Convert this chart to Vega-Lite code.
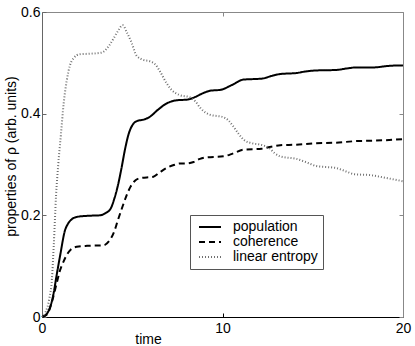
{
  "$schema": "https://vega.github.io/schema/vega-lite/v6.json",
  "width": 361,
  "height": 305,
  "autosize": "none",
  "padding": {"left": 42, "top": 12, "right": 12, "bottom": 29},
  "background": "white",
  "config": {
    "view": {"stroke": null},
    "font": "Liberation Sans",
    "axis": {"grid": false, "labelFontSize": 14, "titleFontSize": 14, "titleFontWeight": "normal", "labelColor": "black", "titleColor": "black"}
  },
  "data": {"values": [
    {"t":0,"v":0,"s":"population"},{"t":0.3,"v":0.008,"s":"population"},{"t":0.5,"v":0.025,"s":"population"},{"t":0.65,"v":0.048,"s":"population"},{"t":0.8,"v":0.08,"s":"population"},{"t":1.0,"v":0.12,"s":"population"},{"t":1.27,"v":0.17,"s":"population"},{"t":1.45,"v":0.184,"s":"population"},{"t":1.64,"v":0.192,"s":"population"},{"t":1.95,"v":0.197,"s":"population"},{"t":2.5,"v":0.199,"s":"population"},{"t":3.2,"v":0.2,"s":"population"},{"t":3.5,"v":0.204,"s":"population"},{"t":3.8,"v":0.213,"s":"population"},{"t":4.0,"v":0.232,"s":"population"},{"t":4.2,"v":0.258,"s":"population"},{"t":4.4,"v":0.292,"s":"population"},{"t":4.6,"v":0.33,"s":"population"},{"t":4.8,"v":0.36,"s":"population"},{"t":5.06,"v":0.38,"s":"population"},{"t":5.3,"v":0.386,"s":"population"},{"t":5.6,"v":0.388,"s":"population"},{"t":5.98,"v":0.394,"s":"population"},{"t":6.4,"v":0.407,"s":"population"},{"t":6.9,"v":0.42,"s":"population"},{"t":7.4,"v":0.426,"s":"population"},{"t":8.1,"v":0.428,"s":"population"},{"t":8.5,"v":0.433,"s":"population"},{"t":8.9,"v":0.44,"s":"population"},{"t":9.3,"v":0.445,"s":"population"},{"t":9.9,"v":0.447,"s":"population"},{"t":10.5,"v":0.456,"s":"population"},{"t":11.15,"v":0.467,"s":"population"},{"t":11.7,"v":0.468,"s":"population"},{"t":12.2,"v":0.469,"s":"population"},{"t":12.7,"v":0.474,"s":"population"},{"t":13.2,"v":0.478,"s":"population"},{"t":14.1,"v":0.48,"s":"population"},{"t":14.6,"v":0.483,"s":"population"},{"t":15.2,"v":0.485,"s":"population"},{"t":16.3,"v":0.486,"s":"population"},{"t":16.9,"v":0.489,"s":"population"},{"t":17.4,"v":0.491,"s":"population"},{"t":18.4,"v":0.491,"s":"population"},{"t":19.2,"v":0.494,"s":"population"},{"t":20,"v":0.495,"s":"population"},
    {"t":0,"v":0,"s":"coherence"},{"t":0.3,"v":0.006,"s":"coherence"},{"t":0.55,"v":0.03,"s":"coherence"},{"t":0.81,"v":0.066,"s":"coherence"},{"t":1.0,"v":0.092,"s":"coherence"},{"t":1.18,"v":0.108,"s":"coherence"},{"t":1.4,"v":0.124,"s":"coherence"},{"t":1.6,"v":0.133,"s":"coherence"},{"t":1.92,"v":0.138,"s":"coherence"},{"t":2.5,"v":0.14,"s":"coherence"},{"t":3.4,"v":0.141,"s":"coherence"},{"t":3.77,"v":0.152,"s":"coherence"},{"t":4.0,"v":0.168,"s":"coherence"},{"t":4.2,"v":0.19,"s":"coherence"},{"t":4.41,"v":0.212,"s":"coherence"},{"t":4.65,"v":0.236,"s":"coherence"},{"t":4.9,"v":0.256,"s":"coherence"},{"t":5.15,"v":0.268,"s":"coherence"},{"t":5.43,"v":0.273,"s":"coherence"},{"t":6.17,"v":0.276,"s":"coherence"},{"t":6.5,"v":0.284,"s":"coherence"},{"t":6.9,"v":0.293,"s":"coherence"},{"t":7.3,"v":0.299,"s":"coherence"},{"t":7.65,"v":0.302,"s":"coherence"},{"t":8.0,"v":0.302,"s":"coherence"},{"t":8.4,"v":0.305,"s":"coherence"},{"t":8.75,"v":0.311,"s":"coherence"},{"t":9.1,"v":0.314,"s":"coherence"},{"t":10.05,"v":0.316,"s":"coherence"},{"t":10.6,"v":0.322,"s":"coherence"},{"t":11.15,"v":0.329,"s":"coherence"},{"t":12.17,"v":0.331,"s":"coherence"},{"t":12.7,"v":0.335,"s":"coherence"},{"t":13.2,"v":0.338,"s":"coherence"},{"t":14.1,"v":0.339,"s":"coherence"},{"t":15.2,"v":0.342,"s":"coherence"},{"t":16.3,"v":0.343,"s":"coherence"},{"t":17.4,"v":0.346,"s":"coherence"},{"t":18.5,"v":0.347,"s":"coherence"},{"t":20,"v":0.35,"s":"coherence"},
    {"t":0,"v":0,"s":"linear entropy"},{"t":0.2,"v":0.01,"s":"linear entropy"},{"t":0.4,"v":0.035,"s":"linear entropy"},{"t":0.55,"v":0.075,"s":"linear entropy"},{"t":0.65,"v":0.14,"s":"linear entropy"},{"t":0.78,"v":0.24,"s":"linear entropy"},{"t":0.9,"v":0.3,"s":"linear entropy"},{"t":1.05,"v":0.36,"s":"linear entropy"},{"t":1.2,"v":0.42,"s":"linear entropy"},{"t":1.37,"v":0.465,"s":"linear entropy"},{"t":1.55,"v":0.495,"s":"linear entropy"},{"t":1.75,"v":0.509,"s":"linear entropy"},{"t":2.1,"v":0.517,"s":"linear entropy"},{"t":2.7,"v":0.518,"s":"linear entropy"},{"t":3.3,"v":0.52,"s":"linear entropy"},{"t":3.7,"v":0.533,"s":"linear entropy"},{"t":3.95,"v":0.547,"s":"linear entropy"},{"t":4.2,"v":0.562,"s":"linear entropy"},{"t":4.47,"v":0.574,"s":"linear entropy"},{"t":4.7,"v":0.56,"s":"linear entropy"},{"t":4.97,"v":0.539,"s":"linear entropy"},{"t":5.24,"v":0.514,"s":"linear entropy"},{"t":5.6,"v":0.506,"s":"linear entropy"},{"t":5.98,"v":0.503,"s":"linear entropy"},{"t":6.3,"v":0.496,"s":"linear entropy"},{"t":6.54,"v":0.483,"s":"linear entropy"},{"t":6.9,"v":0.46,"s":"linear entropy"},{"t":7.2,"v":0.446,"s":"linear entropy"},{"t":7.6,"v":0.437,"s":"linear entropy"},{"t":8.2,"v":0.432,"s":"linear entropy"},{"t":8.5,"v":0.424,"s":"linear entropy"},{"t":8.8,"v":0.41,"s":"linear entropy"},{"t":9.3,"v":0.398,"s":"linear entropy"},{"t":10.05,"v":0.393,"s":"linear entropy"},{"t":10.35,"v":0.386,"s":"linear entropy"},{"t":10.6,"v":0.375,"s":"linear entropy"},{"t":10.9,"v":0.36,"s":"linear entropy"},{"t":11.2,"v":0.348,"s":"linear entropy"},{"t":11.6,"v":0.342,"s":"linear entropy"},{"t":12.1,"v":0.339,"s":"linear entropy"},{"t":12.6,"v":0.332,"s":"linear entropy"},{"t":12.9,"v":0.322,"s":"linear entropy"},{"t":13.2,"v":0.316,"s":"linear entropy"},{"t":14.1,"v":0.311,"s":"linear entropy"},{"t":14.6,"v":0.305,"s":"linear entropy"},{"t":15.2,"v":0.297,"s":"linear entropy"},{"t":16.3,"v":0.293,"s":"linear entropy"},{"t":16.8,"v":0.287,"s":"linear entropy"},{"t":17.3,"v":0.281,"s":"linear entropy"},{"t":18.2,"v":0.279,"s":"linear entropy"},{"t":19.0,"v":0.274,"s":"linear entropy"},{"t":20,"v":0.267,"s":"linear entropy"}
  ]},
  "layer": [
    {
      "mark": {"type": "line", "interpolate": "monotone"},
      "encoding": {
        "x": {"field": "t", "type": "quantitative", "scale": {"domain": [0, 20], "nice": false},
          "axis": {"orient": "bottom", "values": [0, 10, 20], "tickSize": -4, "labelPadding": 8, "labelFlush": false, "domainColor": "black", "tickColor": "black", "title": "time", "titleX": 106, "titleY": 26, "titleBaseline": "alphabetic", "titleAlign": "center", "titleAnchor": null}},
        "y": {"field": "v", "type": "quantitative", "scale": {"domain": [0, 0.6], "nice": false},
          "axis": {"orient": "left", "values": [0, 0.2, 0.4, 0.6], "format": ".1~f", "tickSize": -4, "labelPadding": 6, "labelFlush": false, "domainColor": "#666", "tickColor": "#666", "title": "properties of ρ (arb. units)", "titleX": -27, "titleY": 144, "titleAngle": -90, "titleBaseline": "alphabetic", "titleAlign": "center", "titleAnchor": null}},
        "color": {"field": "s", "type": "nominal", "sort": ["population", "coherence", "linear entropy"],
          "scale": {"domain": ["population", "coherence", "linear entropy"], "range": ["black", "black", "#707070"]},
          "legend": {"title": null, "orient": "none", "legendX": 148, "legendY": 203, "fillColor": "white", "strokeColor": "#555", "padding": 5, "labelFontSize": 14, "labelColor": "black", "symbolType": "M-2,0H2", "symbolSize": 121, "symbolStrokeWidth": 2, "symbolOffset": 8, "labelOffset": 16, "rowPadding": 1, "labelLimit": 200}},
        "strokeDash": {"field": "s", "type": "nominal", "sort": ["population", "coherence", "linear entropy"],
          "scale": {"domain": ["population", "coherence", "linear entropy"], "range": [[1, 0], [6, 4], [1, 2]]}},
        "strokeWidth": {"field": "s", "type": "nominal",
          "scale": {"domain": ["population", "coherence", "linear entropy"], "range": [2, 2, 1.2]}, "legend": null}
      }
    },
    {
      "mark": {"type": "rule", "opacity": 0},
      "encoding": {
        "x": {"field": "t", "type": "quantitative", "aggregate": "min",
          "axis": {"orient": "top", "values": [0, 10, 20], "tickSize": -4, "labels": false, "title": null, "domainColor": "#888", "tickColor": "#888"}},
        "y": {"field": "v", "type": "quantitative", "aggregate": "min",
          "axis": {"orient": "right", "values": [0, 0.2, 0.4, 0.6], "tickSize": -4, "labels": false, "title": null, "domainColor": "#888", "tickColor": "#888"}}
      }
    }
  ],
  "resolve": {"axis": {"x": "independent", "y": "independent"}}
}
